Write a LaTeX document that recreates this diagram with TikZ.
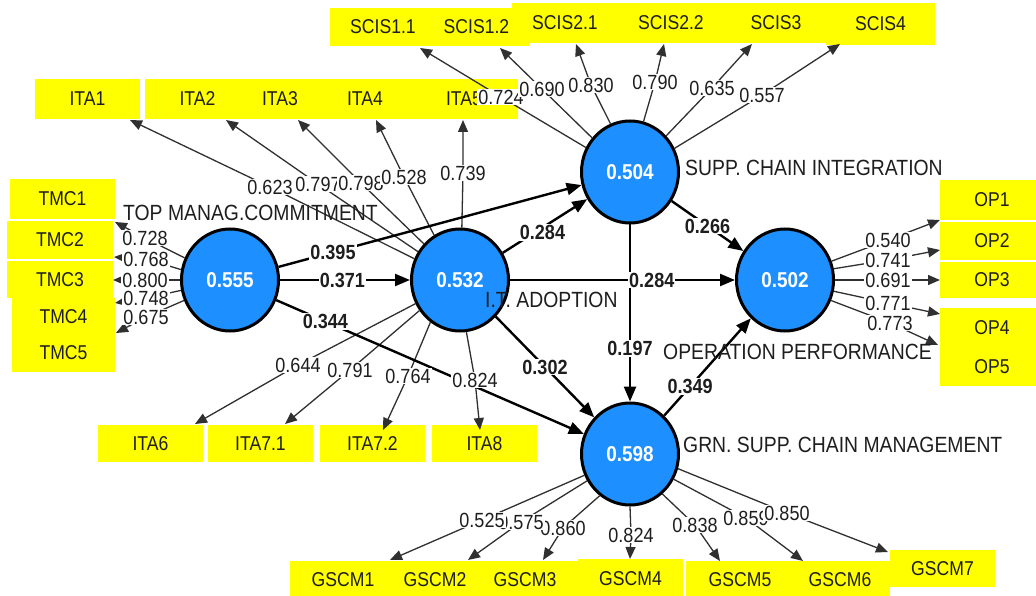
\documentclass[tikz,border=0pt]{standalone}
\usepackage{fontspec}
\setmainfont[FakeStretch=0.88]{Liberation Sans}
\usetikzlibrary{arrows.meta,shapes.geometric}
\definecolor{lvblue}{HTML}{1E8FFF}
\definecolor{ldgray}{HTML}{303030}
\definecolor{ybx}{HTML}{FFFF00}
\definecolor{txt}{HTML}{1E1E1E}
\newcommand\fNum{\fontsize{20.5}{20.5}\selectfont}
\newcommand\fPath{\fontsize{20.5}{20.5}\selectfont\bfseries}
\newcommand\fBox{\fontsize{20}{20}\selectfont}
\newcommand\fName{\fontsize{22}{22}\selectfont}
\newcommand\fVal{\fontsize{21.5}{21.5}\selectfont\bfseries}
\begin{document}
\begin{tikzpicture}[x=1pt,y=-1pt,
  lv/.style={ellipse,draw=black,line width=3pt,fill=lvblue,minimum width=97pt,minimum height=102pt,inner sep=0pt,text=white,font=\fVal},
  ybox/.style={fill=ybx,inner sep=0pt,font=\fBox,text=txt},
  ld/.style={line width=1.3pt,draw=ldgray,-{Triangle[length=12pt,width=10pt]}},
  pc/.style={line width=2.4pt,draw=black,-{Triangle[length=15pt,width=12pt]}},
  lbl/.style={fill=white,inner sep=1pt,font=\fNum,text=txt},
  plbl/.style={fill=white,inner sep=1pt,font=\fPath,text=txt},
  cname/.style={anchor=west,inner sep=0pt,font=\fName,text=txt}]
\useasboundingbox (0,0) rectangle (1036,596);
\fill[white] (0,0) rectangle (1036,596);

% ---------- indicator boxes ----------
\node[ybox,minimum width=105pt,minimum height=40pt] (tmc1) at (62.5,199) {TMC1};
\node[ybox,minimum width=106pt,minimum height=38pt] (tmc2) at (60,240) {TMC2};
\node[ybox,minimum width=106pt,minimum height=37pt] (tmc3) at (60,279.5) {TMC3};
\node[ybox,minimum width=103pt,minimum height=37pt] (tmc4) at (63.5,316.5) {TMC4};
\node[ybox,minimum width=103pt,minimum height=38pt] (tmc5) at (63.5,353) {TMC5};

\node[ybox,minimum width=105pt,minimum height=40pt] (ita1) at (87.5,99) {ITA1};
\node[ybox,minimum width=105pt,minimum height=40pt] (ita2) at (197.5,99) {ITA2};
\node[ybox,minimum width=104pt,minimum height=40pt] (ita3) at (280,99) {ITA3};
\node[ybox,minimum width=104pt,minimum height=40pt] (ita4) at (365,99) {ITA4};
\node[ybox,minimum width=108pt,minimum height=40pt] (ita5) at (464,99) {ITA5};

\node[ybox,minimum width=105pt,minimum height=37pt] (ita6) at (150.5,443.5) {ITA6};
\node[ybox,minimum width=105pt,minimum height=37pt] (ita71) at (260.5,443.5) {ITA7.1};
\node[ybox,minimum width=105pt,minimum height=37pt] (ita72) at (372.5,443.5) {ITA7.2};
\node[ybox,minimum width=105pt,minimum height=37pt] (ita8) at (484.5,443.5) {ITA8};

\node[ybox,minimum width=106pt,minimum height=38pt] (scis11) at (383,27) {SCIS1.1};
\node[ybox,minimum width=105pt,minimum height=38pt] (scis12) at (476.5,27) {SCIS1.2};
\node[ybox,minimum width=106pt,minimum height=40pt] (scis21) at (565,23) {SCIS2.1};
\node[ybox,minimum width=110pt,minimum height=40pt] (scis22) at (671,23) {SCIS2.2};
\node[ybox,minimum width=108pt,minimum height=40pt] (scis3) at (776,23) {SCIS3};
\node[ybox,minimum width=109pt,minimum height=42pt] (scis4) at (880.5,24) {SCIS4};

\node[ybox,minimum width=104pt,minimum height=40pt] (op1) at (992,200) {OP1};
\node[ybox,minimum width=104pt,minimum height=38pt] (op2) at (992,241) {OP2};
\node[ybox,minimum width=104pt,minimum height=36pt] (op3) at (992,280) {OP3};
\node[ybox,minimum width=104pt,minimum height=39pt] (op4) at (992,327.5) {OP4};
\node[ybox,minimum width=104pt,minimum height=39pt] (op5) at (992,366.5) {OP5};

\node[ybox,minimum width=106pt,minimum height=37pt] (g1) at (343,579.5) {GSCM1};
\node[ybox,minimum width=106pt,minimum height=37pt] (g2) at (435,579.5) {GSCM2};
\node[ybox,minimum width=106pt,minimum height=37pt] (g3) at (525,579.5) {GSCM3};
\node[ybox,minimum width=105pt,minimum height=39pt] (g4) at (630.5,578.5) {GSCM4};
\node[ybox,minimum width=108pt,minimum height=37pt] (g5) at (740,579.5) {GSCM5};
\node[ybox,minimum width=100pt,minimum height=37pt] (g6) at (840,579.5) {GSCM6};
\node[ybox,minimum width=105pt,minimum height=37pt] (g7) at (942.5,568.5) {GSCM7};

% ---------- latent variables ----------
\node[lv] (tmc) at (230,280) {0.555};
\node[lv] (ita) at (460,280) {0.532};
\node[lv] (sci) at (630,172) {0.504};
\node[lv] (op) at (785,280) {0.502};
\node[lv] (gscm) at (630,454) {0.598};

% ---------- label points and arrow tips of loadings ----------
\coordinate (ltm1) at (145,238); \coordinate (ttm1) at (115,222);
\coordinate (ltm2) at (146,259); \coordinate (ttm2) at (114,257);
\coordinate (ltm3) at (145,280); \coordinate (ttm3) at (113,280);
\coordinate (ltm4) at (146,298); \coordinate (ttm4) at (115,303);
\coordinate (ltm5) at (146,317); \coordinate (ttm5) at (116,333);

\coordinate (li1) at (270,187); \coordinate (ti1) at (130,120);
\coordinate (li2) at (318,184); \coordinate (ti2) at (226,120);
\coordinate (li3) at (361,183); \coordinate (ti3) at (298,120);
\coordinate (li4) at (404,177); \coordinate (ti4) at (376,120);
\coordinate (li5) at (463,173); \coordinate (ti5) at (463,120);
\coordinate (li6) at (298,365); \coordinate (ti6) at (195,424);
\coordinate (li71) at (350,370); \coordinate (ti71) at (285,424);
\coordinate (li72) at (408,376); \coordinate (ti72) at (383,430);
\coordinate (li8) at (475,380); \coordinate (ti8) at (480,430);

\coordinate (ls1) at (501,97); \coordinate (ts1) at (420,48);
\coordinate (ls2) at (542,89); \coordinate (ts2) at (500,48);
\coordinate (ls3) at (591,85); \coordinate (ts3) at (576,44);
\coordinate (ls4) at (655,82); \coordinate (ts4) at (664,44);
\coordinate (ls5) at (712,88); \coordinate (ts5) at (752,44);
\coordinate (ls6) at (762,95); \coordinate (ts6) at (840,44);

\coordinate (lo1) at (888,240); \coordinate (to1) at (940,220);
\coordinate (lo2) at (888,260); \coordinate (to2) at (940,250);
\coordinate (lo3) at (888,280); \coordinate (to3) at (940,280);
\coordinate (lo4) at (888,303); \coordinate (to4) at (940,314);
\coordinate (lo5) at (890,323); \coordinate (to5) at (938,345);

\coordinate (lg1) at (482,520); \coordinate (tg1) at (390,560);
\coordinate (lg2) at (521,522); \coordinate (tg2) at (468,560);
\coordinate (lg3) at (563,528); \coordinate (tg3) at (543,560);
\coordinate (lg4) at (631,535); \coordinate (tg4) at (630,559);
\coordinate (lg5) at (695,525); \coordinate (tg5) at (720,561);
\coordinate (lg6) at (746,518); \coordinate (tg6) at (803,561);
\coordinate (lg7) at (787,513); \coordinate (tg7) at (888,552);

% ---------- loading connectors ----------
\draw[ld] (tmc.154) -- (ltm1) -- (ttm1);
\draw[ld] (tmc.168) -- (ltm2) -- (ttm2);
\draw[ld] (tmc.180) -- (ltm3) -- (ttm3);
\draw[ld] (tmc.192) -- (ltm4) -- (ttm4);
\draw[ld] (tmc.204) -- (ltm5) -- (ttm5);

\draw[ld] (ita.155) -- (li1) -- (ti1);
\draw[ld] (ita.146) -- (li2) -- (ti2);
\draw[ld] (ita.135) -- (li3) -- (ti3);
\draw[ld] (ita.120) -- (li4) -- (ti4);
\draw[ld] (ita.88) -- (li5) -- (ti5);
\draw[ld] (ita.208) -- (li6) -- (ti6);
\draw[ld] (ita.217) -- (li71) -- (ti71);
\draw[ld] (ita.235) -- (li72) -- (ti72);
\draw[ld] (ita.277) -- (li8) -- (ti8);

\draw[ld] (sci.151) -- (ls1) -- (ts1);
\draw[ld] (sci.138) -- (ls2) -- (ts2);
\draw[ld] (sci.112) -- (ls3) -- (ts3);
\draw[ld] (sci.75) -- (ls4) -- (ts4);
\draw[ld] (sci.45) -- (ls5) -- (ts5);
\draw[ld] (sci.28) -- (ls6) -- (ts6);

\draw[ld] (op.22) -- (lo1) -- (to1);
\draw[ld] (op.13) -- (lo2) -- (to2);
\draw[ld] (op.0) -- (lo3) -- (to3);
\draw[ld] (op.347) -- (lo4) -- (to4);
\draw[ld] (op.336) -- (lo5) -- (to5);

\draw[ld] (gscm.205) -- (lg1) -- (tg1);
\draw[ld] (gscm.212) -- (lg2) -- (tg2);
\draw[ld] (gscm.234) -- (lg3) -- (tg3);
\draw[ld] (gscm.270) -- (lg4) -- (tg4);
\draw[ld] (gscm.309) -- (lg5) -- (tg5);
\draw[ld] (gscm.330) -- (lg6) -- (tg6);
\draw[ld] (gscm.343) -- (lg7) -- (tg7);

% ---------- structural paths ----------
\draw[pc] (tmc) -- coordinate[pos=.48] (c371) (ita);
\draw[pc] (tmc) -- coordinate[pos=.18] (c395) (sci);
\draw[pc] (tmc) -- coordinate[pos=.16] (c344) (gscm);
\draw[pc] (ita) -- coordinate[pos=.47] (c284a) (sci);
\draw[pc] (sci) -- coordinate[pos=.70] (c197) (gscm);
\draw[pc] (ita) -- coordinate[pos=.63] (c284b) (op);
\draw[pc] (ita) -- coordinate[pos=.5] (c302) (gscm);
\draw[pc] (sci) -- coordinate[pos=.5] (c266) (op);
\draw[pc] (gscm) -- coordinate[pos=.3] (c349) (op);

% ---------- path coefficient labels ----------
\node[plbl] (n371) at (c371) {0.371};
\node[plbl] (n395) at (c395) {0.395};
\node[plbl] (n344) at (c344) {0.344};
\node[plbl,yshift=-5pt] (n284a) at (c284a) {0.284};
\node[plbl] (n197) at (c197) {0.197};
\node[plbl] (n284b) at (c284b) {0.284};
\node[plbl] (n302) at (c302) {0.302};
\node[plbl] (n266) at (c266) {0.266};
\node[plbl] (n349) at (c349) {0.349};

% ---------- loading labels ----------
\node[lbl] at (ltm5) {0.675};
\node[lbl] at (ltm1) {0.728};
\node[lbl] at (ltm2) {0.768};
\node[lbl] at (ltm3) {0.800};
\node[lbl] at (ltm4) {0.748};

\node[lbl] at (li1) {0.623};
\node[lbl] at (li2) {0.797};
\node[lbl] at (li3) {0.798};
\node[lbl] at (li4) {0.528};
\node[lbl] at (li5) {0.739};
\node[lbl] at (li6) {0.644};
\node[lbl] at (li71) {0.791};
\node[lbl] at (li72) {0.764};
\node[lbl] at (li8) {0.824};

\node[lbl] at (ls1) {0.724};
\node[lbl] at (ls2) {0.690};
\node[lbl] at (ls3) {0.830};
\node[lbl] at (ls4) {0.790};
\node[lbl] at (ls5) {0.635};
\node[lbl] at (ls6) {0.557};

\node[lbl] at (lo1) {0.540};
\node[lbl] at (lo2) {0.741};
\node[lbl] at (lo3) {0.691};
\node[lbl] at (lo4) {0.771};
\node[lbl] at (lo5) {0.773};

\node[lbl] at (lg3) {0.860};
\node[lbl] at (lg2) {0.575};
\node[lbl] at (lg1) {0.525};
\node[lbl] at (lg4) {0.824};
\node[lbl] at (lg5) {0.838};
\node[lbl] at (lg6) {0.859};
\node[lbl] at (lg7) {0.850};

% ---------- construct names ----------
\node[cname] (ntmc) at (123,213) {TOP MANAG.COMMITMENT};
\node[cname] (nita) at (485,300) {I.T. ADOPTION};
\node[cname] (nsci) at (685,168) {SUPP. CHAIN INTEGRATION};
\node[cname] (nop) at (663,352) {OPERATION PERFORMANCE};
\node[cname] (ngscm) at (683,445) {GRN. SUPP. CHAIN MANAGEMENT};
\end{tikzpicture}
\end{document}
